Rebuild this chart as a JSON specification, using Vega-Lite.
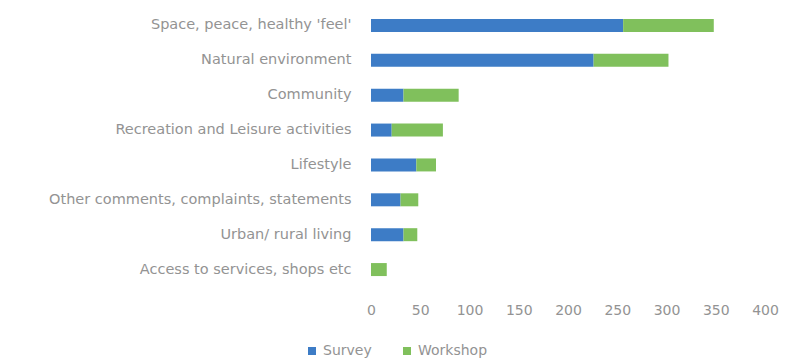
{
  "$schema": "https://vega.github.io/schema/vega-lite/v6.json",
  "autosize": "none",
  "width": 394,
  "height": 279,
  "padding": {"left": 371, "top": 8, "right": 20, "bottom": 72},
  "background": "white",
  "config": {"view": {"stroke": null}, "font": "DejaVu Sans"},
  "data": {"values": [
    {"category": "Space, peace, healthy 'feel'", "source": "Survey", "count": 256},
    {"category": "Space, peace, healthy 'feel'", "source": "Workshop", "count": 92},
    {"category": "Natural environment", "source": "Survey", "count": 226},
    {"category": "Natural environment", "source": "Workshop", "count": 76},
    {"category": "Community", "source": "Survey", "count": 33},
    {"category": "Community", "source": "Workshop", "count": 56},
    {"category": "Recreation and Leisure activities", "source": "Survey", "count": 21},
    {"category": "Recreation and Leisure activities", "source": "Workshop", "count": 52},
    {"category": "Lifestyle", "source": "Survey", "count": 46},
    {"category": "Lifestyle", "source": "Workshop", "count": 20},
    {"category": "Other comments, complaints, statements", "source": "Survey", "count": 30},
    {"category": "Other comments, complaints, statements", "source": "Workshop", "count": 18},
    {"category": "Urban/ rural living", "source": "Survey", "count": 33},
    {"category": "Urban/ rural living", "source": "Workshop", "count": 14},
    {"category": "Access to services, shops etc", "source": "Survey", "count": 0},
    {"category": "Access to services, shops etc", "source": "Workshop", "count": 16}
  ]},
  "mark": {"type": "bar", "size": 13},
  "encoding": {
    "y": {
      "field": "category", "type": "nominal", "sort": null, "title": null,
      "axis": {"domain": false, "ticks": false, "labelPadding": 20, "labelFontSize": 14.5, "labelColor": "#939393", "labelLimit": 400}
    },
    "x": {
      "field": "count", "type": "quantitative", "stack": "zero", "title": null,
      "scale": {"domain": [0, 400]},
      "axis": {"values": [0, 50, 100, 150, 200, 250, 300, 350, 400], "grid": false, "domain": false, "ticks": false, "labelFlush": false, "labelPadding": 16, "labelFontSize": 14, "labelColor": "#939393"}
    },
    "color": {
      "field": "source", "type": "nominal", "title": null,
      "scale": {"domain": ["Survey", "Workshop"], "range": ["#3d7cc6", "#80c05c"]},
      "legend": {"orient": "none", "legendX": -66, "legendY": 336, "direction": "horizontal", "symbolType": "square", "symbolSize": 64, "labelFontSize": 14, "labelColor": "#939393", "columnPadding": 28}
    },
    "order": {"field": "source", "sort": "ascending"}
  }
}
